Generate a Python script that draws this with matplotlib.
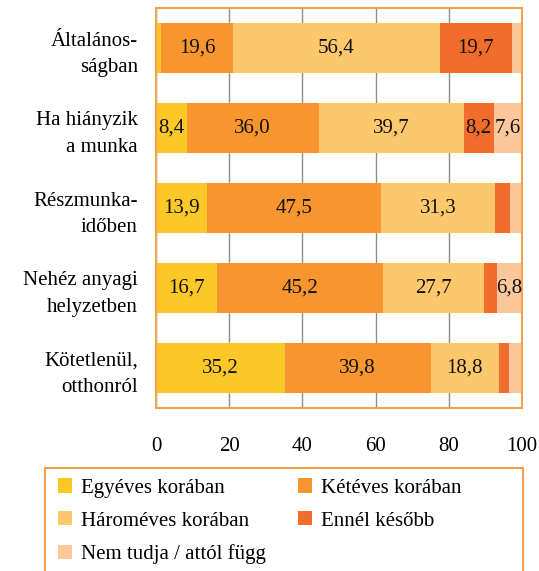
import matplotlib
matplotlib.use("Agg")
import matplotlib.pyplot as plt
from matplotlib.patches import Rectangle
import numpy as np

categories = ["Általános-\nságban", "Ha hiányzik\na munka", "Részmunka-\nidőben",
              "Nehéz anyagi\nhelyzetben", "Kötetlenül,\notthonról"]
series_names = ["Egyéves korában", "Kétéves korában", "Hároméves korában",
                "Ennél később", "Nem tudja / attól függ"]
egyeves = [1.5, 8.4, 13.9, 16.7, 35.2]
keteves = [19.6, 36.0, 47.5, 45.2, 39.8]
harom = [56.4, 39.7, 31.3, 27.7, 18.8]
kesobb = [19.7, 8.2, 3.9, 3.6, 2.6]
nemtudja = [2.8, 7.6, 3.4, 6.8, 3.6]
xticks = [0, 20, 40, 60, 80, 100]

colors = ["#FCC827", "#F7952E", "#FDC76B", "#F26D2B", "#FCC79B"]
border = "#F7A04A"
FS = 15

plt.rcParams['font.family'] = ['Liberation Serif', 'DejaVu Serif']

W, H = 539, 571
fig = plt.figure(figsize=(W/100, H/100), dpi=100)
ax = fig.add_axes([156/W, 1-408/H, (522-156)/W, 400/H])

data = [egyeves, keteves, harom, kesobb, nemtudja]
y = np.arange(len(categories))
left = np.zeros(len(categories))
handles = []
for vals, col, name in zip(data, colors, series_names):
    vals = np.array(vals)
    h = ax.barh(y, vals, left=left, height=0.625, color=col, label=name, zorder=2)
    handles.append(h)
    for yi, v, l in zip(y, vals, left):
        if v >= 6:
            ax.text(l + v/2, yi, f"{v:.1f}".replace(".", ","), ha="center", va="center",
                    fontsize=FS, color="#111111", zorder=3)
    left += vals

ax.set_xlim(0, 100)
ax.set_ylim(len(categories)-0.5, -0.5)
ax.set_xticks(xticks)
ax.set_xticklabels([str(t) for t in xticks], fontsize=FS)
ax.set_yticks(y)
ax.set_yticklabels(categories, fontsize=FS, linespacing=1.55)
ax.tick_params(axis="both", length=0)
ax.tick_params(axis="x", pad=21)
ax.tick_params(axis="y", pad=13)
ax.xaxis.grid(True, color="#8C8C8C", linewidth=1, zorder=0)
ax.set_axisbelow(True)
for s in ax.spines.values():
    s.set_color(border)
    s.set_linewidth(1.5)

# legend frame (extends past bottom edge as in the reference)
fig.patches.append(Rectangle((45/W, -0.05), (523-45)/W, (1-468/H) + 0.05,
                             transform=fig.transFigure, fill=False,
                             edgecolor=border, linewidth=1.5))

top = 1 - 470/H
common = dict(loc="upper left", fontsize=FS, frameon=False,
              handlelength=0.67, handleheight=0.67, handletextpad=0.4,
              labelspacing=0.65, borderaxespad=0, borderpad=0.4)
col1 = [0, 2, 4]
col2 = [1, 3]
fig.legend([handles[i] for i in col1], [series_names[i] for i in col1],
           bbox_to_anchor=(50/W, top), **common)
fig.legend([handles[i] for i in col2], [series_names[i] for i in col2],
           bbox_to_anchor=(290/W, top), **common)

fig.savefig("out.png", dpi=100)
